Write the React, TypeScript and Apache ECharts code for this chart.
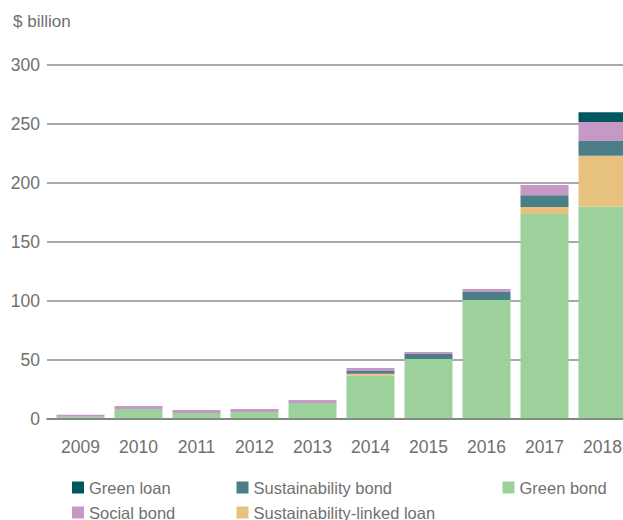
import React, { useEffect, useRef } from "react";
import * as echarts from "echarts";

const years = ["2009", "2010", "2011", "2012", "2013", "2014", "2015", "2016", "2017", "2018"];
const greenBond = [2.0, 8.5, 5.1, 5.9, 13.6, 36.7, 50.8, 100.8, 173.7, 180];
const sustainabilityLinkedLoan = [0, 0, 0, 0, 0, 1.7, 0, 0, 6, 43];
const sustainabilityBond = [0, 0, 0, 0, 0, 2.3, 4.2, 6.8, 10, 12.6];
const socialBond = [1.6, 2.5, 2.5, 2.6, 2.5, 2.5, 1.8, 2.6, 8.5, 16];
const greenLoan = [0, 0, 0, 0, 0, 0, 0, 0, 0, 8.3];

const COLORS: Record<string, string> = {
  "Green bond": "#9dd19c",
  "Sustainability-linked loan": "#e6c27e",
  "Sustainability bond": "#4b7f88",
  "Social bond": "#c698c5",
  "Green loan": "#00575f",
};

const FONT = "'Liberation Sans', Arial, sans-serif";
const TEXT = "#707070";

export default function App() {
  const ref = useRef<HTMLDivElement>(null);
  useEffect(() => {
    if (!ref.current) return;
    const chart = echarts.init(ref.current, undefined, { renderer: "svg" });
    const mk = (name: string, data: number[]) => ({
      name,
      type: "bar",
      stack: "total",
      xAxisIndex: 0,
      yAxisIndex: 1,
      barWidth: 48,
      data,
      itemStyle: { color: COLORS[name] },
      emphasis: { disabled: true },
    });
    const legendItem = (name: string, left: number, top: number) => ({
      data: [name],
      left,
      top,
      padding: 0,
      itemWidth: 12,
      itemHeight: 12,
      icon: "rect",
      selectedMode: false,
      textStyle: { color: TEXT, fontSize: 16.5, fontFamily: FONT },
    });
    chart.setOption({
      animation: false,
      textStyle: { fontFamily: FONT },
      grid: [
        { left: 47, right: 0, top: 65, bottom: 101, outerBoundsMode: "none", containLabel: false },
        { left: 51.5, width: 580, top: 65, bottom: 101, outerBoundsMode: "none", containLabel: false },
      ],
      xAxis: [
        {
          type: "category",
          gridIndex: 1,
          data: years,
          z: 5,
          axisLine: { show: false },
          axisTick: { show: false },
          axisLabel: { color: TEXT, fontSize: 17.5, fontFamily: FONT, margin: 19 },
        },
        {
          type: "value",
          gridIndex: 0,
          min: 0,
          max: 1,
          show: true,
          z: 5,
          axisLine: { show: true, onZero: false, lineStyle: { color: "rgba(110,110,110,0.6)", width: 2 } },
          axisTick: { show: false },
          axisLabel: { show: false },
          splitLine: { show: false },
        },
      ],
      yAxis: [
        {
          type: "value",
          gridIndex: 0,
          min: 0,
          max: 300,
          interval: 50,
          axisLine: { show: false },
          axisTick: { show: false },
          axisLabel: { color: TEXT, fontSize: 17.5, fontFamily: FONT, margin: 7 },
          splitLine: { lineStyle: { color: "#8c8c8c", width: 1.5 } },
        },
        {
          type: "value",
          gridIndex: 1,
          min: 0,
          max: 300,
          interval: 50,
          show: false,
          splitLine: { show: false },
        },
      ],
      legend: [
        legendItem("Green loan", 72, 479),
        legendItem("Social bond", 72, 504),
        legendItem("Sustainability bond", 236.5, 479),
        legendItem("Sustainability-linked loan", 236.5, 504),
        legendItem("Green bond", 502.5, 479),
      ],
      graphic: [
        {
          type: "text",
          left: 13,
          top: 13,
          style: { text: "$ billion", fill: TEXT, fontSize: 17, fontFamily: FONT },
        },
      ],
      series: [
        mk("Green bond", greenBond),
        mk("Sustainability-linked loan", sustainabilityLinkedLoan),
        mk("Sustainability bond", sustainabilityBond),
        mk("Social bond", socialBond),
        mk("Green loan", greenLoan),
      ],
    });
    return () => chart.dispose();
  }, []);
  return (
    <div
      ref={ref}
      style={{ position: "fixed", left: 0, top: 0, width: 623, height: 520, background: "#fff" }}
    />
  );
}
